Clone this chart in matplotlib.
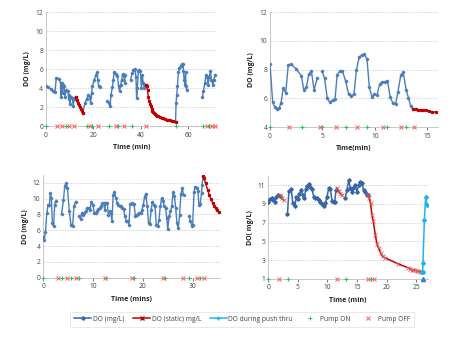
"""Dissolved oxygen traces for four test runs, with pump on/off events."""

import matplotlib.pyplot as plt
import numpy as np

nan = np.nan

# ---- panel 1 ----
p1_do_t = [0, 1, 2, 3, 3.8, 4.4, 5.6, 6.2, 6.3, 6.5, 6.8, 7.0, 7.3, 7.7, 8.0, 8.6, 9.3,
           9.6, 9.9, 10.1, 10.5, 11.2, 11.5, 11.9, 12.3, 12.6, nan,
           15.5, 16.4, 17.1, 17.8, 18.5, 18.8, 19.2, 19.6, 20.4, 21.1, 21.6, 21.8, 22.2, 22.8, nan,
           25.9, 26.6, 27.0, 27.4, 28.0, 28.4, 28.7, 29.5, 30.1, 30.6, 31.0, 31.5, 31.9, 32.3,
           32.9, 33.2, 33.3, nan,
           35.7, 36.3, 36.8, 37.5, 37.9, 38.2, 38.5, 38.9, 39.4, 39.8, 40.2, 40.6, 41.0, 41.5,
           41.9, 42.0, nan,
           54.6, 54.8, 55.1, 55.4, 55.8, 56.2, 56.8, 57.3, 57.8, 57.9, 58.2, 58.5, 58.8, 59.0,
           59.3, nan,
           65.9, 66.3, 66.9, 67.4, 67.9, 68.3, 68.7, 69.3, 69.7, 70.3, 70.7, 71.2]
p1_do_y = [4.2, 4.1, 3.9, 3.7, 3.55, 5.1, 5.0, 4.5, 3.1, 4.1, 4.5, 3.5, 4.35, 4.2, 3.1, 3.8, 3.65,
           2.9, 3.3, 2.3, 3.1, 2.8, 2.1, 2.95, 2.8, 3.05, nan,
           1.37, 2.4, 2.8, 3.3, 3.1, 2.4, 3.5, 4.2, 4.9, 5.4, 5.65, 4.9, 4.2, 4.1, nan,
           2.6, 2.4, 2.1, 3.3, 4.1, 4.9, 5.65, 5.5, 5.3, 4.2, 3.65, 4.35, 4.9, 5.5,
           5.3, 4.5, 5.4, nan,
           4.9, 5.6, 5.9, 6.05, 5.2, 2.95, 4.0, 5.75, 5.9, 5.75, 4.0, 5.4, 4.5, 4.0,
           4.35, 4.35, nan,
           0.45, 2.4, 3.3, 4.25, 5.65, 6.1, 6.35, 6.5, 6.55, 5.75, 4.9, 4.35, 5.65, 4.2,
           3.8, nan,
           3.05, 3.65, 4.5, 5.4, 5.2, 4.35, 5.15, 5.75, 4.9, 4.35, 4.9, 5.4]
p1_static_t = [12.6, 13.0, 13.4, 13.8, 14.2, 14.6, 15.0, 15.5, nan,
               42.0, 42.4, 42.8, 43.1, 43.5, 43.8, 44.1, 44.5, 44.8, 45.2, 45.5, 45.9, 46.2,
               46.6, 47.3, 48.0, 48.7, 49.4, 50.2, 50.9, 51.6, 52.3, 53.0, 53.7, 54.6]
p1_static_y = [3.05, 2.7, 2.4, 2.2, 2.0, 1.8, 1.6, 1.37, nan,
               4.35, 4.25, 3.8, 3.1, 2.6, 2.35, 2.1, 1.8, 1.6, 1.45, 1.35, 1.25, 1.17,
               1.1, 1.02, 0.95, 0.87, 0.8, 0.73, 0.67, 0.63, 0.6, 0.56, 0.53, 0.45]
p1_on = [0, 8.3, 17.4, 19.3, 26.7, 30.3, 36.1, 54.8, 66.3, 68.8]
p1_off = [4.5, 6.6, 9.7, 11.8, 18.5, 22.0, 29.4, 32.9, 42.0, 67.7, 69.8, 71.2]

# ---- panel 2 ----
p2_do_t = [0, 0.25, 0.47, 0.7, 0.88, 1.04, 1.26, 1.5, 1.74, 2.0, 2.5, 3.0, 3.22, 3.47, 3.7,
           3.95, 4.2, 4.5, nan,
           4.96, 5.2, 5.46, 5.7, 5.97, 6.2, 6.4, 6.66, 6.9, 7.2, 7.5, 7.74, 8.0, 8.24, 8.5,
           8.75, 9.0, 9.25, 9.47, 9.73, 9.95, 10.2, 10.45, 10.7, 10.96, 11.2, 11.46, 11.7,
           11.97, 12.2, 12.47, 12.7, 12.98, 13.2, 13.4, 13.64]
p2_do_y = [8.4, 5.77, 5.37, 5.28, 5.35, 5.65, 6.7, 6.4, 8.33, 8.37, 8.05, 7.56, 6.58, 6.77, 7.7,
           7.88, 6.58, 7.4, nan,
           7.9, 7.4, 6.0, 5.72, 5.88, 5.95, 7.63, 7.9, 7.9, 7.23, 6.28, 6.19, 6.28, 7.98, 8.86,
           9.02, 9.07, 8.72, 6.77, 6.07, 6.3, 6.23, 6.98, 7.16, 7.16, 7.2, 6.07, 5.7,
           5.6, 6.47, 7.63, 7.81, 6.58, 6.05, 5.47, 5.23]
p2_static_t = [13.64, 13.9, 14.1, 14.37, 14.6, 14.85, 15.15, 15.47, 15.8]
p2_static_y = [5.23, 5.23, 5.2, 5.19, 5.2, 5.19, 5.1, 5.05, 5.05]
p2_on = [0, 3.06, 4.96, 7.26, 9.25, 11.2, 13.0]
p2_off = [1.8, 4.8, 6.25, 8.27, 10.74, 12.5, 13.74]

# ---- panel 3 ----
p3_do_t = [0, 0.2, 0.46, 0.72, 0.98, 1.25, 1.44, 1.64, 1.84, 2.1, 2.3, 2.56, nan,
           3.68, 4.07, 4.33, 4.6, 4.86, 5.25, 5.58, 5.9, 6.17, 6.5, nan,
           7.16, 7.49, 7.75, 8.0, 8.27, 8.5, 8.8, 9.1, 9.4, 9.65, 10.0, 10.24, 10.5, 10.77,
           11.1, 11.36, 11.6, 11.9, 12.15, 12.34, 12.6, 12.87, 13.07, 13.33, 13.6, 13.8,
           14.05, 14.3, 14.58, 14.84, 15.1, 15.36, 15.6, 15.9, 16.15, 16.4, 16.68, 16.94,
           17.2, 17.46, 17.73, 18.0, 18.25, 18.5, 18.78, 19.04, 19.3, 19.57, 19.83, 20.1,
           20.35, 20.6, 20.88, 21.14, 21.4, 21.67, 21.93, 22.2, 22.45, 22.7, 22.98, 23.24,
           23.5, 23.77, 24.03, 24.3, 24.56, 24.8, 25.0, 25.28, 25.54, 25.8, 26.07, 26.33,
           26.6, 26.86, 27.1, 27.38, 27.64, 27.9, 28.17, nan,
           29.3, 29.55, 29.8, 30.0, 30.27, 30.53, 30.8, 31.06, 31.25, 31.5, 31.78, 31.9, 32.1]
p3_do_y = [5.15, 4.8, 5.77, 8.16, 9.2, 9.2, 10.67, 10.04, 6.9, 6.49, 9.2, 9.75, nan,
           8.08, 9.83, 11.6, 11.9, 11.3, 8.37, 6.7, 6.49, 9.0, 9.62, nan,
           7.74, 7.45, 8.16, 7.95, 8.16, 8.37, 8.79, 8.79, 8.58, 9.62, 9.2, 8.16, 8.16, 8.37,
           8.7, 8.79, 9.0, 9.41, 9.41, 8.58, 9.5, 9.41, 7.95, 8.37, 8.16, 7.11,
           10.46, 10.88, 10.13, 9.41, 9.2, 9.08, 9.0, 8.79, 8.7, 7.74, 7.2, 7.11,
           6.69, 9.29, 9.41, 9.33, 9.29, 7.74, 7.95, 8.08, 8.16, 8.16, 8.58, 9.2,
           10.25, 10.59, 9.12, 6.9, 6.82, 8.58, 9.62, 9.2, 9.0, 6.69, 6.49, 7.32,
           9.0, 10.04, 9.7, 9.0, 8.79, 7.53, 6.15, 7.74, 8.37, 9.0, 10.8, 10.38,
           8.79, 6.9, 6.28, 7.87, 10.54, 11.3, 10.46, nan,
           7.74, 7.2, 6.57, 6.69, 10.8, 11.5, 11.38, 10.96, 9.2, 9.29, 10.67, 11.7, 12.9]
p3_static_t = [32.1, 32.3, 32.6, 33.0, 33.3, 33.6, 34.0, 34.3, 34.6, 34.9, 35.2]
p3_static_y = [12.9, 12.55, 11.9, 11.1, 10.5, 10.0, 9.5, 9.08, 8.8, 8.58, 8.24]
p3_on = [0, 3.74, 5.5, 7.2, 12.7, 18.25, 24.4, 29.3, 31.4]
p3_off = [2.95, 4.73, 6.57, 12.5, 17.86, 24.0, 28.1, 30.86, 32.3]

# ---- panel 4 ----
p4_do_t = [0, 0.28, 0.56, 0.84, 1.12, 1.4, 1.69, 1.97, nan,
           3.26, 3.5, 3.9, 4.16, 4.5, 4.78, 5.06, 5.28, 5.56, 5.84, 6.12, 6.35, 6.63, 6.85,
           7.13, 7.4, 7.7, 7.98, 8.26, 8.54, 8.82, 9.1, 9.38, 9.66, 9.94, 10.22, 10.5, 10.8,
           11.07, 11.24, 11.46, nan,
           13.0, 13.3, 13.6, 13.9, 14.16, 14.4, 14.7, 15.0, 15.28, 15.56, 15.84, 16.12, 16.4,
           16.68, 16.85]
p4_do_y = [9.23, 9.5, 9.59, 9.4, 9.23, 9.76, 10.0, 9.87, nan,
           7.9, 10.4, 10.54, 9.06, 8.77, 9.76, 9.5, 10.1, 10.47, 10.0, 9.66, 10.57, 10.93, 11.07,
           10.82, 10.57, 9.76, 9.59, 9.66, 9.4, 9.16, 8.95, 8.77, 9.06, 9.76, 10.65, 10.54, 9.3,
           9.16, 9.23, 10.47, nan,
           9.59, 10.47, 11.53, 10.65, 10.3, 10.65, 11.0, 10.3, 11.0, 11.35, 11.18, 10.47, 10.3,
           10.0, 10.0]
p4_static_t = [2.0, 2.3, 2.6, nan,
               11.6, 11.9, 12.2, 12.5, nan,
               16.85, 17.08, 17.3, 17.53, 17.75, 18.1, 18.37, 18.65, 19.0, 19.33, 19.78,
               22.0, 23.7, 24.0, 24.27, 24.55, 24.83, 25.1, 25.4, 25.7, 26.0]
p4_static_y = [9.9, 9.65, 9.4, nan,
               10.7, 10.4, 10.1, 9.95, nan,
               10.0, 9.59, 9.06, 7.83, 7.18, 5.7, 4.75, 4.29, 3.76, 3.4, 3.23,
               2.59, 2.17, 2.1, 1.99, 1.95, 1.92, 1.88, 1.81, 1.78, 1.74]
p4_push_t = [26.0, 26.1, 26.15, 26.4, 26.6, 26.85]
p4_push_y = [1.74, 1.77, 2.66, 7.33, 9.7, 8.9]
p4_probe_t = [26.2]
p4_probe_y = [1.0]
p4_on = [0, 3.3, 13.1, 17.4]
p4_off = [1.8, 11.6, 16.85, 17.8]

BLUE = '#4a7ebb'
DARK_BLUE = '#3865a8'
RED = '#c00000'
CYAN = '#1fb4f0'
GREEN = '#22c55e'
PINK = '#ff5a5a'
GRID = '#c8c8c8'
TEXT = '#404040'

plt.rcParams['font.family'] = ['Open Sans', 'DejaVu Sans']


def style_axes(ax, xlim, ylim, xticks, yticks, xlabel, ylabel):
    ax.set_xlim(*xlim)
    ax.set_ylim(*ylim)
    ax.set_xticks(xticks)
    ax.set_yticks(yticks)
    for side in ('top', 'right'):
        ax.spines[side].set_visible(False)
    for side in ('left', 'bottom'):
        ax.spines[side].set_color('#bfbfbf')
        ax.spines[side].set_linewidth(0.6)
    ax.grid(axis='y', color=GRID, linestyle=(0, (2, 1.5)), linewidth=0.5)
    ax.set_axisbelow(True)
    ax.tick_params(labelsize=4.8, colors=TEXT, length=2, width=0.5, pad=2)
    ax.tick_params(axis='y', length=0)
    ax.set_xlabel(xlabel, fontsize=5, fontweight='bold', color='#222222', labelpad=4)
    ax.set_ylabel(ylabel, fontsize=5, fontweight='bold', color='#222222', labelpad=3)


def draw_pumps(ax, on, off, base, ms_on=3.5, ms_off=3):
    ax.plot(on, [base] * len(on), linestyle='none', marker='+', color=GREEN,
            ms=ms_on, mew=0.8, clip_on=False, zorder=4)
    ax.plot(off, [base] * len(off), linestyle='none', marker='x', color=PINK,
            ms=ms_off, mew=0.7, clip_on=False, zorder=4)


fig = plt.figure(figsize=(4.5, 3.38), dpi=100)

ax1 = fig.add_axes([0.102, 0.627, 0.380, 0.337])
ax2 = fig.add_axes([0.600, 0.624, 0.373, 0.340])
ax3 = fig.add_axes([0.096, 0.178, 0.393, 0.305])
ax4 = fig.add_axes([0.596, 0.175, 0.355, 0.305])

# panel 1
ax1.plot(p1_do_t, p1_do_y, color=BLUE, lw=1.0, marker='D', ms=1.3, zorder=3)
ax1.plot(p1_static_t, p1_static_y, color=RED, lw=1.0, marker='s', ms=1.3, zorder=3)
draw_pumps(ax1, p1_on, p1_off, 0)
style_axes(ax1, (0, 72), (0, 12), [0, 20, 40, 60], range(0, 13, 2),
           'Time (min)', 'DO (mg/L)')

# panel 2
ax2.plot(p2_do_t, p2_do_y, color=BLUE, lw=1.0, marker='D', ms=1.3, zorder=3)
ax2.plot(p2_static_t, p2_static_y, color=RED, lw=1.0, marker='s', ms=1.3, zorder=3)
draw_pumps(ax2, p2_on, p2_off, 4)
style_axes(ax2, (0, 16), (4, 12), [0, 5, 10, 15], range(4, 13, 2),
           'Time(min)', 'DO (mg/L)')

# panel 3
ax3.plot(p3_do_t, p3_do_y, color=BLUE, lw=1.0, marker='D', ms=1.3, zorder=3)
ax3.plot(p3_static_t, p3_static_y, color=RED, lw=1.0, marker='s', ms=1.3, zorder=3)
draw_pumps(ax3, p3_on, p3_off, 0)
style_axes(ax3, (0, 35.5), (0, 13), [0, 10, 20, 30], range(0, 13, 2),
           'Time (mins)', 'DO (mg/L)')

# panel 4
ax4.plot(p4_do_t, p4_do_y, color=DARK_BLUE, lw=1.1, marker='D', ms=1.8, zorder=3)
ax4.plot(p4_static_t, p4_static_y, color=RED, lw=1.1, marker='x', ms=3,
         mec='#e06060', mew=0.6, zorder=3)
ax4.plot(p4_push_t, p4_push_y, color=CYAN, lw=1.1, marker='D', ms=2, zorder=3)
ax4.plot(p4_probe_t, p4_probe_y, linestyle='none', marker='^', color='#3a7fd0',
         ms=3, clip_on=False, zorder=5)
draw_pumps(ax4, p4_on, p4_off, 1)
style_axes(ax4, (0, 27), (1, 12), [0, 5, 10, 15, 20, 25], range(1, 12, 2),
           'Time (min)', 'DO( mg/L)')

# shared legend
handles = [
    plt.Line2D([], [], color=DARK_BLUE, lw=1.1, marker='D', ms=1.8),
    plt.Line2D([], [], color=RED, lw=1.1, marker='x', ms=2.5, mec=RED),
    plt.Line2D([], [], color=CYAN, lw=1.1, marker='+', ms=3),
    plt.Line2D([], [], color=GREEN, linestyle='none', marker='+', ms=3, mew=0.7),
    plt.Line2D([], [], color=PINK, linestyle='none', marker='x', ms=3, mew=0.7),
]
labels = ['DO (mg/L)', 'DO (static) mg/L', 'DO during push thru', 'Pump ON', 'Pump OFF']
leg = fig.legend(handles, labels, loc='center', bbox_to_anchor=(0.538, 0.056), ncol=5,
                 fontsize=4.8, frameon=True, fancybox=False, edgecolor='#d9d9d9',
                 handlelength=2.6, handletextpad=0.2, columnspacing=1.3, borderpad=0.6)
leg.get_frame().set_linewidth(0.5)
for txt in leg.get_texts():
    txt.set_color(TEXT)

fig.savefig('out.png', dpi=100)
